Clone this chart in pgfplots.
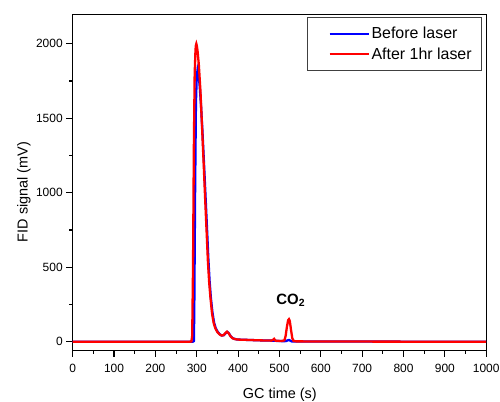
\documentclass[border=0pt]{standalone}
\usepackage{pgfplots}
\pgfplotsset{compat=1.18}
\usepackage{fontspec}
\setmainfont{Liberation Sans}
\begin{document}
\begin{tikzpicture}
\path[use as bounding box] (-72.7bp,-52bp) rectangle (427.3bp,350bp);
\begin{axis}[
  at={(0,0)}, anchor=south west,
  scale only axis, width=413.5bp, height=335.3bp,
  xmin=0, xmax=1000, ymin=-55, ymax=2195,
  xtick={0,100,200,300,400,500,600,700,800,900,1000}, ytick={0,500,1000,1500,2000},
  minor xtick={50,150,250,350,450,550,650,750,850,950},
  minor ytick={250,750,1250,1750},
  tick align=outside,
  xtick pos=bottom, ytick pos=left,
  major tick length=6.5bp, minor tick length=3.5bp,
  axis line style={line width=1bp},
  minor tick style={black, line width=1.1bp},
  major tick style={black, line width=1.1bp},
  /pgf/number format/assume math mode=true,
  /pgf/number format/1000 sep={},
  tick label style={font=\fontsize{12}{14}\selectfont},
  xticklabel style={yshift=-4bp},
  xlabel={GC time (s)}, ylabel={FID signal (mV)},
  label style={font=\fontsize{14.5}{17}\selectfont},
  xlabel style={at={(axis description cs:0.501,-0.132)}, anchor=center},
  ylabel style={at={(axis description cs:-0.118,0.471)}, anchor=center, rotate=0},
  legend style={at={(rel axis cs:0.99,0.993)}, anchor=north east,
    font=\fontsize{16}{19}\selectfont, draw=black!75, line width=0.8bp,
    inner xsep=8bp, inner ysep=8bp, row sep=3bp},
  legend cell align=left,
  legend image code/.code={\path (0bp,0bp); \draw[#1, line width=2bp] (13bp,0bp) -- (52bp,0bp);},
]
\addplot[blue, line width=2.3bp] coordinates {
(0,0) (290,0) (293,5) (294,200) (296,1000) (298,1600) (300,1780) (302,1825)
(304,1800) (307,1720) (310,1600) (314,1400) (318,1170) (321,990) (325,750)
(328,560) (331,410) (334,300) (338,195) (342,128) (346,90) (351,65) (356,50)
(361,42) (366,45) (370,58) (374,66) (378,56) (382,38) (387,24) (395,17)
(400,15) (450,10) (480,8) (510,4) (516,5) (520,10) (523,12) (526,8) (530,2)
(600,2) (1000,0)
};
\addlegendentry{Before laser}
\addplot[red, line width=2.3bp] coordinates {
(0,0) (280,0) (287,2) (289,40) (291,500) (293,1300) (295,1800) (297,1960)
(298,1990) (299,2000) (300,1990) (302,1950) (305,1860) (309,1680) (313,1430)
(317,1180) (320,980) (324,730) (327,540) (330,400) (333,300) (337,190)
(341,125) (345,90) (350,65) (355,50) (360,42) (365,45) (369,58) (373,68)
(377,58) (381,40) (386,25) (392,18) (400,15) (450,10) (480,8) (484,12)
(487,20) (490,8) (505,5) (512,10) (515,40) (518,100) (521,145) (523,152)
(525,140) (528,80) (531,25) (534,6) (540,3) (600,2) (1000,0)
};
\addlegendentry{After 1hr laser}
\node[anchor=base west, inner sep=0pt, font=\fontsize{15}{18}\selectfont\bfseries] at (axis cs:492,253) {CO\textsubscript{2}};
\end{axis}
\end{tikzpicture}
\end{document}
